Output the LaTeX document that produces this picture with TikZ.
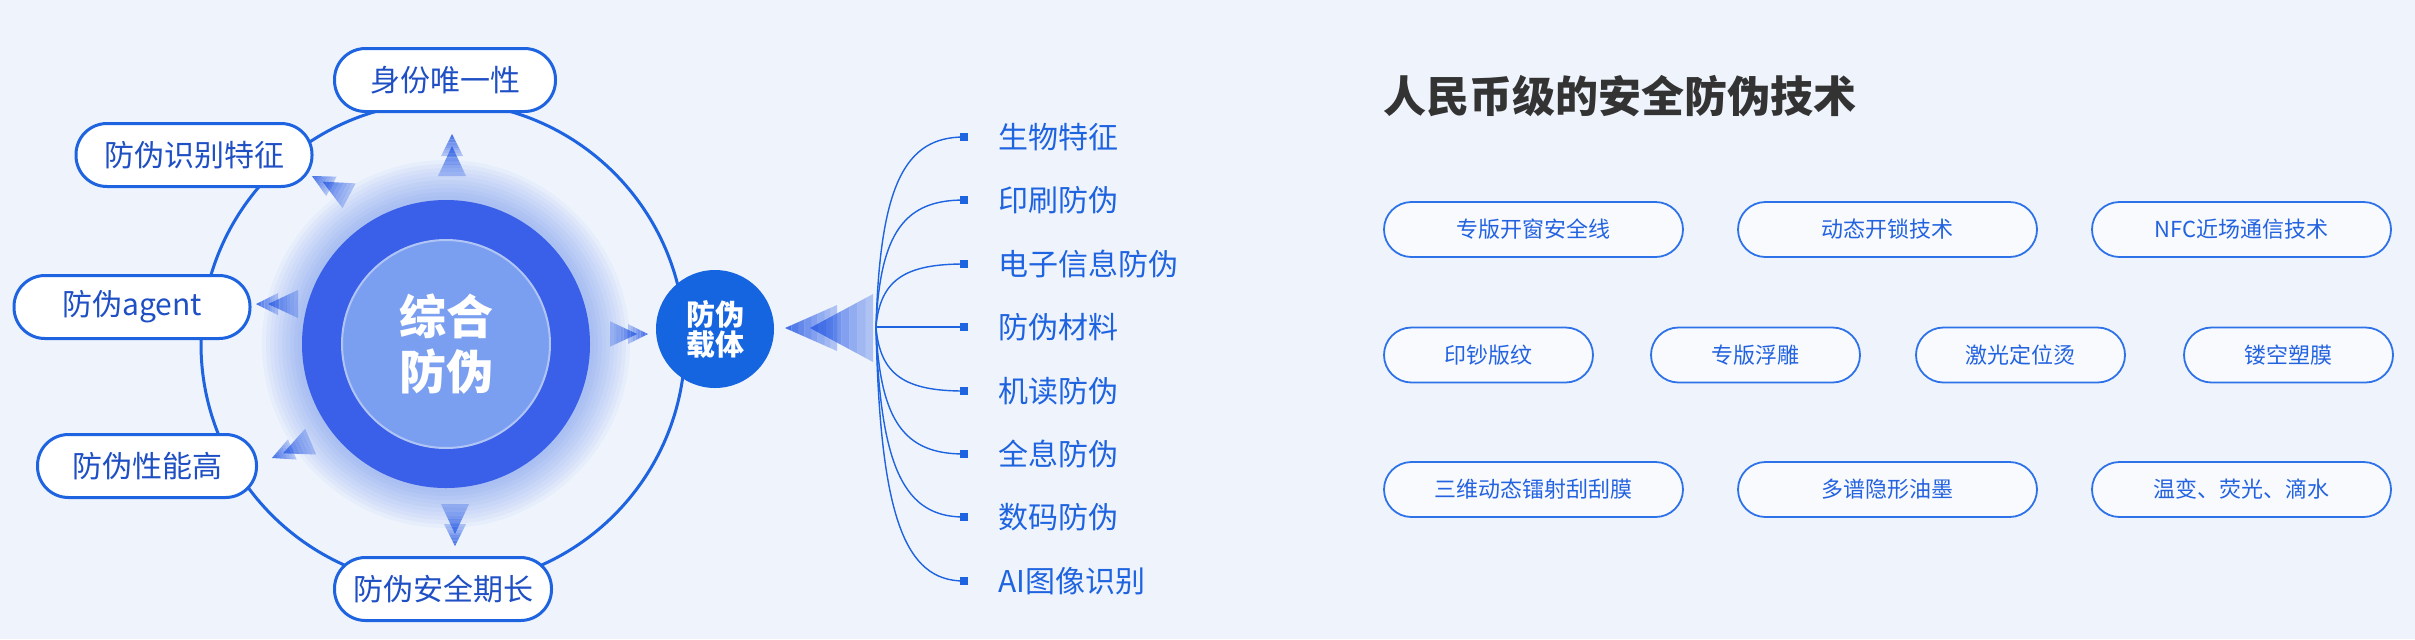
\documentclass[tikz,border=0pt]{standalone}
\usepackage{fontspec}
\setmainfont{Noto Sans CJK SC}
\definecolor{bg}{HTML}{EFF4FC}
\definecolor{mainblue}{HTML}{1E63E0}
\definecolor{txtblue}{HTML}{1F4FC4}
\definecolor{ringblue}{HTML}{3A5FE8}
\definecolor{innerblue}{HTML}{7B9FF0}
\definecolor{glowblue}{HTML}{4F7DF0}
\definecolor{arrowblue}{HTML}{3464E6}
\definecolor{pillblue}{HTML}{2E72EA}
\definecolor{pilltext}{HTML}{2463E0}
\definecolor{carrier}{HTML}{1565E0}
\definecolor{titlegray}{HTML}{333333}
% gradient triangle: tip x, length, half width (pointing +x)
\newcommand{\gtri}[3]{%
  \foreach \k in {0,...,7} {
    \pgfmathsetmacro{\xa}{#1-#2*\k/8}
    \pgfmathsetmacro{\xb}{#1-#2*(\k+1)/8}
    \pgfmathsetmacro{\wa}{#3*\k/8}
    \pgfmathsetmacro{\wb}{#3*(\k+1)/8}
    \pgfmathsetmacro{\op}{0.9-0.08*\k}
    \fill[arrowblue, opacity=\op] (\xa,-\wa) -- (\xb,-\wb) -- (\xb,\wb) -- (\xa,\wa) -- cycle;
  }%
}
\tikzset{
  lbox/.style={draw=mainblue, line width=1.5pt, fill=white, rounded corners=15.5pt,
    minimum height=31.5pt, inner sep=0pt, text=txtblue, font=\fontsize{15pt}{18pt}\selectfont},
  pill/.style={draw=pillblue, line width=0.9pt, fill=white!55!bg, rounded corners=13.75pt,
    minimum height=27.5pt, inner sep=0pt, text=pilltext, font=\fontsize{11pt}{13pt}\selectfont},
  pillw/.style={pill, minimum width=149.5pt},
  pilln/.style={pill, minimum width=104.5pt},
  listtext/.style={anchor=west, inner sep=0pt, text=mainblue, font=\fontsize{15pt}{18pt}\selectfont},
  marker/.style={fill=mainblue, minimum size=4pt, inner sep=0pt},
  garrow/.pic={
    \gtri{-12}{30}{14}
    \gtri{0}{22}{11}
  },
  bigarrow/.pic={
    \gtri{-25}{63}{34}
    \gtri{0}{52}{23}
  }
}
\begin{document}
\begin{tikzpicture}[x=0.5pt,y=-0.5pt]
\fill[bg] (0,0) rectangle (2415,639);
\useasboundingbox (0,0) rectangle (2415,639);

% big orbit circle
\draw[mainblue, line width=1.5pt] (443,344) circle[radius=121pt];

% glow
\foreach \r in {92,90,...,72} {
  \fill[glowblue, opacity=0.05] (446,344) circle[radius=\r pt];
}
\node[circle, fill=ringblue, minimum size=144pt, inner sep=0pt] (core) at (446,344) {};
\node[circle, fill=innerblue, draw=white!40!innerblue, line width=1pt, minimum size=104pt, inner sep=0pt] (inner) at (core) {};
\node[align=center, text=white, font=\bfseries\fontsize{23.5pt}{27.5pt}\selectfont] (coretext) at (core) {综合\\防伪};

% arrows around the core
\pic[rotate=90] at (452,134) {garrow};
\pic[rotate=152] at (312,176) {garrow};
\pic[rotate=180] at (256,304) {garrow};
\pic[rotate=203] at (272,458) {garrow};
\pic[rotate=270] at (455,546) {garrow};
\pic[scale=0.9] at (648,334) {garrow};

% surrounding boxes
\node[lbox, minimum width=110.5pt] (b1) at (445,80) {身份唯一性};
\node[lbox, minimum width=118pt] (b2) at (194,155) {防伪识别特征};
\node[lbox, minimum width=118pt] (b3) at (132,307) {防伪agent};
\node[lbox, minimum width=109.5pt] (b4) at (147,466) {防伪性能高};
\node[lbox, minimum width=108.5pt] (b5) at (443,589) {防伪安全期长};

% carrier node
\node[circle, fill=carrier, minimum size=59pt, inner sep=0pt] (carrier) at (715,329) {};
\node[align=center, text=white, font=\bfseries\fontsize{14.5pt}{15pt}\selectfont] at (carrier) {防伪\\载体};

% big arrow into carrier
\pic[rotate=180] at (785,328) {bigarrow};

% fan list
\coordinate (fan) at (876,327);
\foreach \i/\yy/\t in {1/137/生物特征, 2/200/印刷防伪, 3/264/电子信息防伪, 4/327/防伪材料,
                       5/391/机读防伪, 6/454/全息防伪, 7/517/数码防伪, 8/581/AI图像识别} {
  \node[marker] (m\i) at (964,\yy) {};
  \node[listtext] (t\i) at (998,\yy) {\t};
  \pgfmathsetmacro{\cy}{327+0.75*(\yy-327)}
  \draw[mainblue, line width=0.7pt] (fan) .. controls (880,\cy) and (905,\yy) .. (m\i.center);
}

% right section
\node[anchor=west, inner sep=0pt, text=titlegray, font=\bfseries\fontsize{21.5pt}{24pt}\selectfont] (title) at (1383,96) {人民币级的安全防伪技术};

\node[pillw] (p11) at (1533.5,229.5) {专版开窗安全线};
\node[pillw] (p12) at (1887.5,229.5) {动态开锁技术};
\node[pillw] (p13) at (2241.5,229.5) {NFC近场通信技术};

\node[pilln] (p21) at (1488.5,355) {印钞版纹};
\node[pilln] (p22) at (1755.5,355) {专版浮雕};
\node[pilln] (p23) at (2020.5,355) {激光定位烫};
\node[pilln] (p24) at (2288.5,355) {镂空塑膜};

\node[pillw] (p31) at (1533.5,489.5) {三维动态镭射刮刮膜};
\node[pillw] (p32) at (1887.5,489.5) {多谱隐形油墨};
\node[pillw] (p33) at (2241.5,489.5) {温变、荧光、滴水};
\end{tikzpicture}
\end{document}
